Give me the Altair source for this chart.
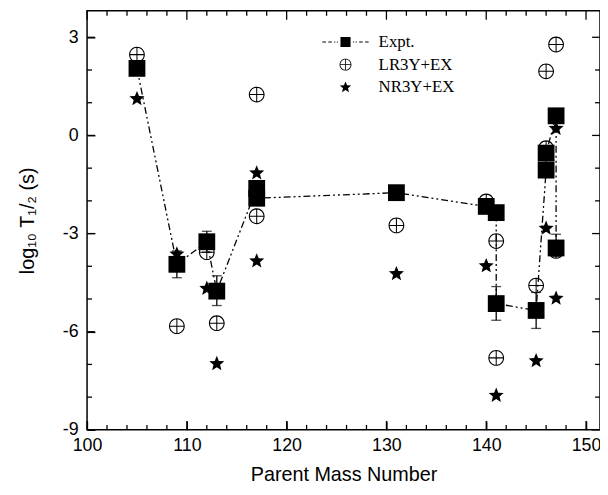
import altair as alt
import pandas as pd

# ---- data ----
expt_x = [105, 109, 112, 113, 117, 117, 131, 140, 141, 141, 145, 146, 146, 147, 147]
expt_y = [2.05, -3.94, -3.25, -4.76, -1.62, -1.92, -1.75, -2.17, -2.36, -5.14, -5.35, -1.06, -0.54, 0.60, -3.44]

err_x = [109, 112, 113, 141, 145, 147]
err_lo = [-4.35, -3.57, -5.20, -5.65, -5.90, -3.70]
err_hi = [-3.53, -2.93, -4.29, -4.62, -4.80, -3.02]

lr_x = [105, 109, 112, 113, 117, 117, 131, 140, 141, 141, 145, 146, 146, 147, 147]
lr_y = [2.47, -5.83, -3.57, -5.74, 1.25, -2.47, -2.75, -2.02, -3.23, -6.80, -4.59, 1.96, -0.39, 2.78, -3.53]

nr_x = [105, 109, 112, 113, 117, 117, 131, 140, 141, 145, 146, 147, 147]
nr_y = [1.12, -3.63, -4.68, -6.98, -1.15, -3.84, -4.23, -3.99, -7.95, -6.89, -2.84, 0.21, -4.98]

series_names = ["Expt.", "LR3Y+EX", "NR3Y+EX"]
x_major_ticks = [100, 110, 120, 130, 140, 150]
x_minor_ticks = [102, 104, 106, 108, 112, 114, 116, 118, 122, 124, 126, 128,
                 132, 134, 136, 138, 142, 144, 146, 148]
y_major_ticks = [-9, -6, -3, 0, 3]
y_minor_ticks = [-8, -7, -5, -4, -2, -1, 1, 2]

W, H = 519, 424
X_MIN, X_MAX = 100, 151.4
Y_MIN, Y_MAX = -9, 3.81
px_x = W / (X_MAX - X_MIN)   # pixels per x unit
px_y = H / (Y_MAX - Y_MIN)   # pixels per y unit

# ---- tables ----
df_expt = pd.DataFrame({"x": expt_x, "y": expt_y, "idx": list(range(len(expt_x)))})
df_err = pd.DataFrame({"x": err_x, "y": err_lo, "hi": err_hi})
df_caps = pd.DataFrame({"x": err_x + err_x, "y": err_lo + err_hi})
df_lr = pd.DataFrame({"x": lr_x, "y": lr_y, "series": series_names[1]})
df_nr = pd.DataFrame({"x": nr_x, "y": nr_y, "series": series_names[2]})

# inward frame ticks (length given in pixels, converted to data units)
xt_rows = []
for vals, L in ((x_major_ticks, 9), (x_minor_ticks, 5)):
    for v in vals:
        xt_rows.append({"x": v, "y": Y_MIN, "tend": Y_MIN + L / px_y})
        xt_rows.append({"x": v, "y": Y_MAX, "tend": Y_MAX - L / px_y})
df_xt = pd.DataFrame(xt_rows)
yt_rows = []
for vals, L in ((y_major_ticks, 8), (y_minor_ticks, 5)):
    for v in vals:
        yt_rows.append({"y": v, "x": X_MIN, "tend": X_MIN + L / px_x})
        yt_rows.append({"y": v, "x": X_MAX, "tend": X_MAX - L / px_x})
df_yt = pd.DataFrame(yt_rows)

x_scale = alt.Scale(domain=[X_MIN, X_MAX], nice=False, zero=False)
y_scale = alt.Scale(domain=[Y_MIN, Y_MAX], nice=False, zero=False)

# axis line pulled 9/8 px inside the frame so its (outward) ticks point inward
x_axis = alt.Axis(
    values=x_major_ticks, format="d",
    labelFlush=False, labelOverlap=False,
    ticks=True, tickSize=9, tickColor="black", tickWidth=1.2, offset=-9,
    domain=False, grid=False,
    labelFont="Liberation Sans", labelFontSize=18, labelColor="black", labelPadding=7,
    title="Parent Mass Number", titleFont="Liberation Sans", titleFontSize=20,
    titleFontWeight="normal", titleColor="black", titlePadding=10,
)
y_axis = alt.Axis(
    values=y_major_ticks,
    labelExpr="toString(datum.value)",
    labelFlush=False, labelOverlap=False,
    ticks=True, tickSize=8, tickColor="black", tickWidth=1.2, offset=-8,
    domain=False, grid=False,
    labelFont="Liberation Sans", labelFontSize=18, labelColor="black", labelPadding=9,
    title="log₁₀ T₁/₂ (s)", titleFont="Liberation Sans", titleFontSize=20,
    titleFontWeight="normal", titleColor="black", titleX=-58, titleY=H / 2,
)

X = alt.X("x:Q", scale=x_scale, axis=x_axis)
Y = alt.Y("y:Q", scale=y_scale, axis=y_axis)

square_path = "M-0.85,-0.85H0.85V0.85H-0.85Z"
expt_legend_path = (square_path +
    " M-3.9,-0.09H-3.3V0.09H-3.9Z M-2.9,-0.09H-2.3V0.09H-2.9Z"
    " M-1.9,-0.09H-1.72V0.09H-1.9Z M-1.45,-0.09H-1.27V0.09H-1.45Z"
    " M1.27,-0.09H1.45V0.09H1.27Z M1.72,-0.09H1.9V0.09H1.72Z"
    " M2.3,-0.09H2.9V0.09H2.3Z M3.3,-0.09H3.9V0.09H3.3Z")
# ring (outer clockwise, inner counter-clockwise -> hole) plus a thin cross
circle_plus_path = ("M-1,0A1,1 0 1,1 1,0A1,1 0 1,1 -1,0Z "
                    "M-0.86,0A0.86,0.86 0 1,0 0.86,0A0.86,0.86 0 1,0 -0.86,0Z "
                    "M-0.9,-0.065H0.9V0.065H-0.9Z M-0.065,-0.9H0.065V0.9H-0.065Z")
star_path = ("M0,-1L0.26,-0.36L0.951,-0.309L0.42,0.14L0.588,0.809L0,0.44"
             "L-0.588,0.809L-0.42,0.14L-0.951,-0.309L-0.26,-0.36Z")

legend = alt.Legend(
    orient="none", legendX=253, legendY=23, title=None, padding=0,
    labelFont="Liberation Serif", labelFontSize=17, labelColor="black",
    symbolSize=144, labelOffset=25, rowPadding=5,
    symbolFillColor="black", symbolStrokeWidth=0, symbolOpacity=1,
)
shape_enc = alt.Shape("series:N", scale=alt.Scale(domain=series_names,
                      range=[expt_legend_path, circle_plus_path, star_path]), legend=legend)

line = alt.Chart(df_expt).mark_line(color="black", strokeWidth=1.3,
                                    strokeDash=[7, 3, 2, 3, 2, 3]).encode(x=X, y=Y, order="idx:Q")
err = alt.Chart(df_err).mark_rule(color="black", strokeWidth=1.3).encode(
    x=X, y=Y, y2="hi:Q")
caps = alt.Chart(df_caps).mark_tick(orient="horizontal", size=10, thickness=1.3,
                                    color="black").encode(x=X, y=Y)
lr = alt.Chart(df_lr).mark_point(size=256, filled=True, color="black", strokeWidth=0,
                                 opacity=1).encode(x=X, y=Y, shape=shape_enc)
squares = alt.Chart(df_expt).mark_point(shape="square", filled=True, size=289,
                                        color="black", opacity=1).encode(x=X, y=Y)
nr = alt.Chart(df_nr).mark_point(size=256, filled=True, color="black", strokeWidth=0,
                                 opacity=1).encode(x=X, y=Y, shape=shape_enc)
xticks = alt.Chart(df_xt).mark_rule(color="black", strokeWidth=1.3).encode(
    x=X, y=Y, y2="tend:Q")
yticks = alt.Chart(df_yt).mark_rule(color="black", strokeWidth=1.3).encode(
    x=X, y=Y, x2="tend:Q")

chart = alt.layer(line, err, caps, lr, squares, nr, xticks, yticks).properties(
    width=W, height=H,
    autosize=alt.AutoSizeParams(type="none"),
    padding={"left": 80, "top": 0, "right": 0, "bottom": 55},
    background="white",
).configure_view(stroke="black", strokeWidth=1.5)

chart.save("out.html", embed_options={"renderer": "svg", "actions": False})
